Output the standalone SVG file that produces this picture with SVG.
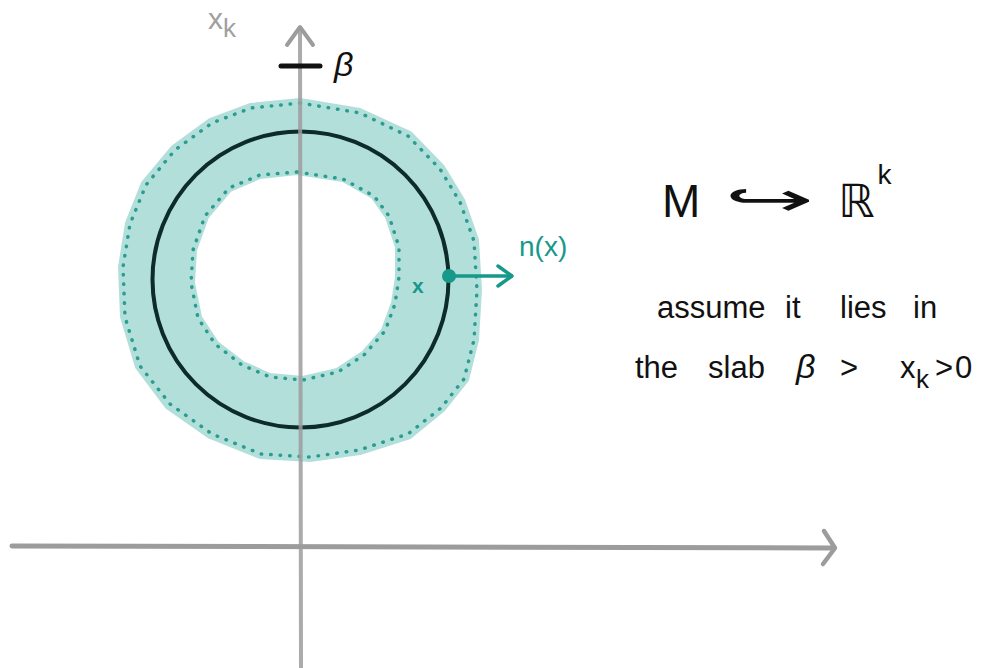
<svg xmlns="http://www.w3.org/2000/svg" width="1006" height="668" viewBox="0 0 1006 668">
<style>
.axis{stroke:#9c9c9c;fill:none;stroke-linecap:round;stroke-linejoin:round}
.hand{font-family:"Liberation Sans","DejaVu Sans",sans-serif;fill:#111}
.teal{fill:#17998a;font-family:"Liberation Sans","DejaVu Sans",sans-serif}
.dots{fill:none;stroke:#2a9d90;stroke-width:3.5;stroke-dasharray:0.5 9;stroke-linecap:round;stroke-linejoin:round}
</style>
<rect width="1006" height="668" fill="#ffffff"/>
<g id="band">
<path fill="#b3dfdb" fill-rule="evenodd" d="M300,100 L360,110 L410,133 L443,167 L463,200 L477,240 L480,290 L477,340 L467,380 L443,410 L410,437 L360,453 L310,460 L260,457 L210,437 L167,407 L137,367 L122,317 L120,267 L127,223 L143,183 L173,147 L210,120 L250,105 Z M297,173 L260,177 L230,190 L207,217 L195,250 L193,283 L200,317 L217,343 L243,363 L270,375 L303,378 L337,370 L363,353 L383,330 L393,303 L397,277 L397,247 L387,217 L373,197 L343,180 Z" stroke="#b3dfdb" stroke-width="4" stroke-linejoin="round"/>
<path class="dots" d="M300,103 L360,113 L408,136 L440,169 L460,202 L474,241 L477,290 L474,340 L464,379 L441,408 L408,434 L359,450 L310,457 L261,454 L212,434 L170,404 L140,366 L125,317 L123,267 L130,224 L146,185 L175,150 L212,123 L251,108 Z"/>
<path class="dots" d="M297,172 L343,179 L374,196 L389,216 L399,247 L399,277 L395,304 L385,331 L364,355 L338,372 L303,380 L270,377 L242,365 L215,344 L198,318 L191,283 L193,250 L205,216 L229,188 L260,175 Z"/>
</g>
<g id="manifold">
<circle cx="300.5" cy="279.5" r="148" fill="none" stroke="#0d2b28" stroke-width="4"/>
</g>
<g id="axes">
<path class="axis" stroke-width="5" d="M12,546 L832,548"/>
<path class="axis" stroke-width="4.5" d="M824,531 L835,548 L823,564"/>
<path class="axis" stroke-width="4" opacity="0.85" d="M300,28 L301,668"/>
<path class="axis" stroke-width="4" d="M287,45 L300,27 L313,45"/>
</g>
<g id="beta-tick">
<path d="M281,66 L320,66" stroke="#111" stroke-width="5" stroke-linecap="round"/>
<text class="hand" x="334" y="76" font-size="34" font-style="italic">β</text>
</g>
<g id="axis-label">
<text x="208" y="29" font-family="Liberation Sans,DejaVu Sans,sans-serif" font-size="30" fill="#a0a0a0">x<tspan font-size="26" dy="8">k</tspan></text>
</g>
<g id="normal">
<path d="M449,276 L510,276" stroke="#17998a" stroke-width="3.5" fill="none" stroke-linecap="round"/>
<path d="M498,266 L512,276 L498,286" stroke="#17998a" stroke-width="3.5" fill="none" stroke-linecap="round" stroke-linejoin="round"/>
<circle cx="449" cy="276" r="7" fill="#17998a"/>
<text class="teal" x="519" y="256" font-size="28">n(x)</text>
<text class="teal" x="412" y="293" font-size="21" font-weight="bold">x</text>
</g>
<g id="embedding">
<text class="hand" x="662" y="217" font-size="46">M</text>
<text class="hand" x="724" y="215" font-size="46" textLength="90" lengthAdjust="spacingAndGlyphs">↪</text>
<text class="hand" x="838" y="217" font-size="46">ℝ<tspan font-size="28" dy="-33" dx="3">k</tspan></text>
</g>
<g id="assumption">
<text class="hand" x="657" y="318" font-size="31">assume</text>
<text class="hand" x="785" y="318" font-size="31">it</text>
<text class="hand" x="840" y="318" font-size="31">lies</text>
<text class="hand" x="913" y="318" font-size="31">in</text>
<text class="hand" x="635" y="378" font-size="31">the</text>
<text class="hand" x="708" y="378" font-size="31">slab</text>
<text class="hand" x="796" y="378" font-size="34" font-style="italic">β</text>
<text class="hand" x="840" y="378" font-size="31">&gt;</text>
<text class="hand" x="900" y="378" font-size="31">x</text>
<text class="hand" x="916" y="388" font-size="26">k</text>
<text class="hand" x="935" y="378" font-size="31">&gt;</text>
<text class="hand" x="955" y="378" font-size="31">0</text>
</g>
</svg>
